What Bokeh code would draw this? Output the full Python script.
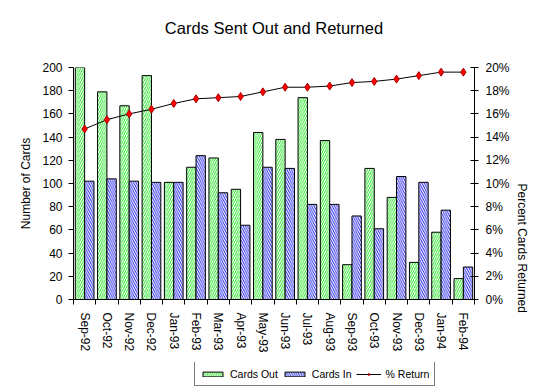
import math
from bokeh.plotting import figure
from bokeh.layouts import column
from bokeh.models import (Range1d, LinearAxis, FixedTicker, NumeralTickFormatter,
                          Legend, LegendItem, ColumnDataSource, Title)
from bokeh.embed import file_html
from bokeh.resources import INLINE

months = ["Sep-92", "Oct-92", "Nov-92", "Dec-92", "Jan-93", "Feb-93", "Mar-93",
          "Apr-93", "May-93", "Jun-93", "Jul-93", "Aug-93", "Sep-93", "Oct-93",
          "Nov-93", "Dec-93", "Jan-94", "Feb-94"]
cards_out = [201, 179, 167, 193, 101, 114, 122, 95, 144, 138, 174, 137, 30, 113,
             88, 32, 58, 18]
cards_in = [102, 104, 102, 101, 101, 124, 92, 64, 114, 113, 82, 82, 72, 61,
            106, 101, 77, 28]
pct_return = [0.147, 0.155, 0.160, 0.164, 0.169, 0.173, 0.174, 0.175, 0.179,
              0.183, 0.183, 0.184, 0.187, 0.188, 0.190, 0.193, 0.196, 0.196]

FONT = "Liberation Sans"
TXT = "black"
n = len(months)
centers = [i + 0.5 for i in range(n)]
src = ColumnDataSource(dict(
    x_out=[c - 0.21 for c in centers],
    x_in=[c + 0.21 for c in centers],
    x=centers, out=cards_out, inn=cards_in, pct=pct_return))

OUT_STYLE = dict(fill_color="white", line_color="black", line_width=1,
                 hatch_pattern="/", hatch_color="#00e000", hatch_scale=4.5,
                 hatch_weight=0.9)
IN_STYLE = dict(fill_color="white", line_color="black", line_width=1,
                hatch_pattern="\\", hatch_color="#0000e8", hatch_scale=4.5,
                hatch_weight=0.9)
LINE_STYLE = dict(line_color="black", line_width=1)
PT_STYLE = dict(marker="diamond", size=8, fill_color="red",
                line_color="#aa0000", line_width=1)

p = figure(width=550, height=362, output_backend="svg", toolbar_location=None,
           x_range=Range1d(0, n), y_range=Range1d(0, 200), title=None,
           min_border_left=73, min_border_right=76, min_border_top=67,
           min_border_bottom=63, border_fill_color="white",
           background_fill_color="white")
p.outline_line_color = None
p.xgrid.visible = False
p.ygrid.visible = False

# spacer (closest to the frame), then the real title above it
p.add_layout(Title(text=" ", text_font_size="1px", standoff=13), "above")
p.add_layout(Title(text="Cards Sent Out and Returned", align="center",
                   text_font=FONT, text_font_size="16.5px", text_color=TXT,
                   text_font_style="normal", standoff=30), "above")

p.extra_y_ranges = {"pct": Range1d(0, 0.2)}

p.vbar(x="x_out", top="out", width=0.42, source=src, **OUT_STYLE)
p.vbar(x="x_in", top="inn", width=0.42, source=src, **IN_STYLE)
p.line(x="x", y="pct", source=src, y_range_name="pct", **LINE_STYLE)
p.scatter(x="x", y="pct", source=src, y_range_name="pct", **PT_STYLE)

# x axis
xa = p.xaxis[0]
xa.ticker = FixedTicker(ticks=centers, minor_ticks=list(range(n + 1)))
xa.major_label_overrides = {c: m for c, m in zip(centers, months)}
xa.major_label_orientation = -math.pi / 2
xa.major_tick_out = 0
xa.major_tick_in = 0
xa.minor_tick_out = 5
xa.minor_tick_in = 0
xa.minor_tick_line_color = "black"
xa.major_label_text_font = FONT
xa.major_label_text_font_size = "12px"
xa.major_label_text_color = TXT
xa.major_label_standoff = 8
xa.axis_line_color = "black"

# left axis
ya = p.yaxis[0]
ya.ticker = FixedTicker(ticks=list(range(0, 201, 20)), minor_ticks=[])
ya.major_tick_out = 5
ya.major_tick_in = 0
ya.minor_tick_out = 0
ya.minor_tick_in = 0
ya.major_label_text_font = FONT
ya.major_label_text_font_size = "12px"
ya.major_label_text_color = TXT
ya.major_label_standoff = 6
ya.axis_label = "Number of Cards"
ya.axis_label_text_font = FONT
ya.axis_label_text_font_size = "12px"
ya.axis_label_text_font_style = "normal"
ya.axis_label_text_color = TXT
ya.axis_label_standoff = 6

# right axis
ra = LinearAxis(y_range_name="pct",
                ticker=FixedTicker(ticks=[i / 100 for i in range(0, 21, 2)], minor_ticks=[]),
                formatter=NumeralTickFormatter(format="0%"))
ra.major_tick_out = 4
ra.major_tick_in = 4
ra.minor_tick_out = 0
ra.minor_tick_in = 0
ra.major_label_text_font = FONT
ra.major_label_text_font_size = "12px"
ra.major_label_text_color = TXT
ra.major_label_standoff = 7
ra.axis_label = "Percent Cards Returned"
ra.axis_label_text_font = FONT
ra.axis_label_text_font_size = "12px"
ra.axis_label_text_font_style = "normal"
ra.axis_label_text_color = TXT
ra.axis_label_standoff = 9
ra.axis_label_orientation = -math.pi / 2
p.add_layout(ra, "right")

# legend strip below the chart (its glyphs lie outside its visible range)
lf = figure(width=550, height=25, output_backend="svg", toolbar_location=None,
            x_range=Range1d(0, n), y_range=Range1d(1000, 1001), title=None,
            min_border_left=0, min_border_right=0, min_border_top=0,
            min_border_bottom=0, border_fill_color="white",
            background_fill_color="white")
lf.outline_line_color = None
lf.axis.visible = False
lf.grid.visible = False
l_out = lf.vbar(x="x_out", top="out", width=0.42, source=src, **OUT_STYLE)
l_in = lf.vbar(x="x_in", top="inn", width=0.42, source=src, **IN_STYLE)
l_line = lf.line(x="x", y="pct", source=src, **LINE_STYLE)
l_pts = lf.scatter(x="x", y="pct", source=src, **PT_STYLE)

legend = Legend(items=[
    LegendItem(label="Cards Out", renderers=[l_out]),
    LegendItem(label="Cards In", renderers=[l_in]),
    LegendItem(label="% Return", renderers=[l_line, l_pts]),
], orientation="horizontal", location=(121, 1), margin=0,
   padding=5, spacing=4, label_standoff=5, glyph_width=25, glyph_height=6,
   label_height=13, label_text_font=FONT, label_text_font_size="10.5px",
   label_text_color=TXT,
   border_line_color="black", border_line_width=1, background_fill_alpha=1)
lf.add_layout(legend, "center")

layout = column(p, lf, spacing=0)
open("out.html", "w").write(file_html(layout, INLINE))
